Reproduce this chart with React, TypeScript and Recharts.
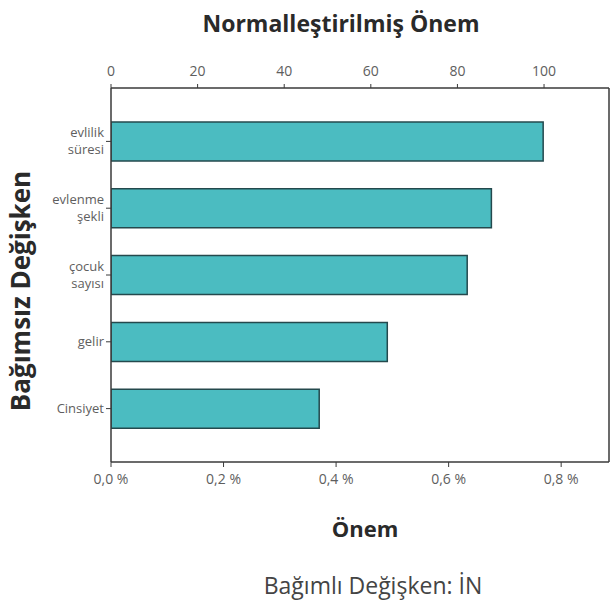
// App.tsx
// Horizontal bar chart: normalized importance of independent variables (Recharts).

import { BarChart, Bar, XAxis, YAxis, ReferenceLine } from "recharts";

const categories = ["evlilik\nsüresi", "evlenme\nşekli", "çocuk\nsayısı", "gelir", "Cinsiyet"];
const importance = [0.768, 0.676, 0.633, 0.491, 0.37];
const bottomTicks = [0, 0.2, 0.4, 0.6, 0.8];
const topTicks = [0, 20, 40, 60, 80, 100];

const maxImportance = Math.max(...importance);
const data = categories.map((name, i) => ({
  name,
  onem: importance[i],
  normalized: (importance[i] / maxImportance) * 100,
}));

const FONT = "'Open Sans', sans-serif";
const AXIS = "#3a3a3a";
const TICK_TEXT = "#5e5e5e";

function CategoryTick(props: any) {
  const { x, y, payload } = props;
  const lines = String(payload.value).split("\n");
  const lh = 17;
  const start = -((lines.length - 1) * lh) / 2;
  return (
    <text
      x={x}
      y={y}
      textAnchor="end"
      fill={TICK_TEXT}
      fontSize={13}
      fontFamily={FONT}
    >
      {lines.map((l, i) => (
        <tspan key={i} x={x} dy={i === 0 ? start + 4.5 : lh}>
          {l}
        </tspan>
      ))}
    </text>
  );
}

const fmtPct = (v: number) => `${v.toFixed(1).replace(".", ",")} %`;

export default function App() {
  return (
    <div style={{ position: "absolute", left: 0, top: 0, width: 611, height: 604, background: "#fff" }}>
      <BarChart
        width={611}
        height={604}
        data={data}
        layout="vertical"
        margin={{ top: 48, right: 2, bottom: 102, left: 41 }}
      >
        <XAxis
          xAxisId="top"
          orientation="top"
          type="number"
          domain={[0, 115]}
          ticks={topTicks}
          allowDataOverflow
          height={40}
          tickSize={4}
          tickMargin={8}
          axisLine={{ stroke: AXIS, strokeWidth: 1.5 }}
          tickLine={{ stroke: AXIS }}
          tick={{ fill: TICK_TEXT, fontSize: 14, fontFamily: FONT }}
        />
        <XAxis
          xAxisId="bottom"
          orientation="bottom"
          type="number"
          domain={[0, 0.885]}
          ticks={bottomTicks}
          allowDataOverflow
          height={40}
          tickSize={5}
          tickMargin={7}
          tickFormatter={fmtPct}
          axisLine={{ stroke: AXIS, strokeWidth: 1.5 }}
          tickLine={{ stroke: AXIS }}
          tick={{ fill: TICK_TEXT, fontSize: 14, fontFamily: FONT }}
        />
        <YAxis
          type="category"
          dataKey="name"
          width={70}
          padding={{ top: 20, bottom: 20 }}
          tickSize={5}
          tickMargin={2}
          axisLine={{ stroke: AXIS, strokeWidth: 1.5 }}
          tickLine={{ stroke: AXIS }}
          tick={<CategoryTick />}
          interval={0}
        />
        <ReferenceLine xAxisId="bottom" x={0.885} stroke={AXIS} strokeWidth={1.5} />
        <Bar
          xAxisId="bottom"
          dataKey="onem"
          fill="#4bbcc1"
          stroke="#24494d"
          strokeWidth={1.5}
          barSize={39}
          isAnimationActive={false}
        />
      </BarChart>

      <div
        style={{
          position: "absolute",
          left: 0,
          width: 682,
          top: 7,
          textAlign: "center",
          fontFamily: FONT,
          fontWeight: 700,
          fontSize: 23,
          color: "#2a2a2a",
          lineHeight: "32px",
        }}
      >
        Normalleştirilmiş Önem
      </div>
      <div
        style={{
          position: "absolute",
          left: 20 - 150,
          top: 291 - 15,
          width: 300,
          height: 30,
          lineHeight: "30px",
          textAlign: "center",
          transform: "rotate(-90deg)",
          fontFamily: FONT,
          fontWeight: 700,
          fontSize: 26,
          color: "#2a2a2a",
        }}
      >
        Bağımsız Değişken
      </div>
      <div
        style={{
          position: "absolute",
          left: 365 - 100,
          width: 200,
          top: 513,
          textAlign: "center",
          fontFamily: FONT,
          fontWeight: 700,
          fontSize: 22,
          color: "#2a2a2a",
          lineHeight: "30px",
        }}
      >
        Önem
      </div>
      <div
        style={{
          position: "absolute",
          left: 373 - 150,
          width: 300,
          top: 569,
          textAlign: "center",
          fontFamily: FONT,
          fontSize: 23,
          color: "#444",
          lineHeight: "32px",
        }}
      >
        Bağımlı Değişken: İN
      </div>
    </div>
  );
}
